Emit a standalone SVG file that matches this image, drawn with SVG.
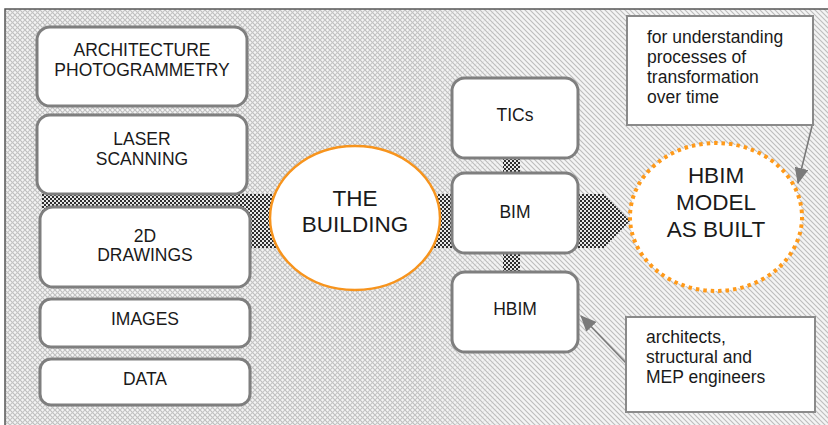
<svg xmlns="http://www.w3.org/2000/svg" width="828" height="425" viewBox="0 0 828 425">
<defs>
<pattern id="diagA" width="5" height="5" patternUnits="userSpaceOnUse">
<rect width="5" height="5" fill="#f4f4f4"/>
<path d="M-1,-1 L6,6 M-1,4 L1,6 M4,-1 L6,1" stroke="#bdbdbd" stroke-width="1.1"/>
</pattern>
<pattern id="diagB" width="5" height="5" patternUnits="userSpaceOnUse">
<path d="M6,-1 L-1,6 M1,-1 L-1,1 M6,4 L4,6" stroke="#c4c4c4" stroke-width="1.1"/>
</pattern>
<linearGradient id="fade" x1="0" y1="0" x2="1" y2="0" gradientUnits="objectBoundingBox">
<stop offset="0" stop-color="#fff"/>
<stop offset="0.5" stop-color="#fff"/>
<stop offset="0.62" stop-color="#000"/>
<stop offset="1" stop-color="#000"/>
</linearGradient>
<mask id="leftMask" maskUnits="userSpaceOnUse" x="0" y="0" width="828" height="425">
<rect x="5" y="9" width="823" height="416" fill="url(#fade)"/>
</mask>
<pattern id="checker" width="4" height="4" patternUnits="userSpaceOnUse">
<rect width="4" height="4" fill="#e8e8e8"/>
<rect width="2" height="2" fill="#2e2e2e"/>
<rect x="2" y="2" width="2" height="2" fill="#2e2e2e"/>
</pattern>
<marker id="arr" markerWidth="16" markerHeight="14" refX="15" refY="7" orient="auto" markerUnits="userSpaceOnUse">
<path d="M0,0 L16,7 L0,14 Z" fill="#7a7a7a"/>
</marker>
<style>
.box{fill:#fff;stroke:#7f7f7f;stroke-width:3}
.call{fill:#fff;stroke:#8a8a8a;stroke-width:2}
.t{font-family:"Liberation Sans",Arial,sans-serif;fill:#1a1a1a;text-anchor:middle}
.s{font-size:17.5px}
.b{font-size:22.5px}
.l{font-family:"Liberation Sans",Arial,sans-serif;fill:#1a1a1a;font-size:17.5px}
.cn{stroke:#7a7a7a;stroke-width:1.6;fill:none}
</style>
</defs>
<rect width="828" height="425" fill="#fff"/>
<g id="background">
<rect x="5" y="9" width="823" height="416" fill="url(#diagA)"/>
<rect x="5" y="9" width="823" height="416" fill="url(#diagB)" mask="url(#leftMask)"/>
<path d="M5,425 L5,9 L828,9" fill="none" stroke="#555" stroke-width="1.5"/>
</g>
<g id="connectors">
<path d="M42,194 L604,194 L630,221 L604,248 L42,248 Z" fill="url(#checker)"/>
<rect x="503" y="157" width="17" height="17" fill="url(#checker)"/>
<rect x="503" y="252" width="17" height="21" fill="url(#checker)"/>
<line class="cn" x1="812" y1="126" x2="798" y2="183" marker-end="url(#arr)"/>
<line class="cn" x1="626" y1="363" x2="581" y2="316" marker-end="url(#arr)"/>
</g>
<g id="node-photogrammetry">
<rect class="box" x="37" y="27" width="210" height="79" rx="13"/>
<text class="t s" x="142" y="56">ARCHITECTURE</text>
<text class="t s" x="142" y="76">PHOTOGRAMMETRY</text>
</g>
<g id="node-laser">
<rect class="box" x="37" y="115" width="210" height="79" rx="13"/>
<text class="t s" x="142" y="145">LASER</text>
<text class="t s" x="142" y="165">SCANNING</text>
</g>
<g id="node-drawings">
<rect class="box" x="40" y="207" width="210" height="80" rx="13"/>
<text class="t s" x="145" y="242">2D</text>
<text class="t s" x="145" y="261">DRAWINGS</text>
</g>
<g id="node-images">
<rect class="box" x="40" y="299" width="210" height="48" rx="11"/>
<text class="t s" x="145" y="325">IMAGES</text>
</g>
<g id="node-data">
<rect class="box" x="40" y="359" width="210" height="46" rx="11"/>
<text class="t s" x="145" y="385">DATA</text>
</g>
<g id="node-building">
<ellipse cx="355" cy="218" rx="85" ry="72" fill="#fff" stroke="#f7941d" stroke-width="2.5"/>
<text class="t b" x="355" y="206">THE</text>
<text class="t b" x="355" y="232">BUILDING</text>
</g>
<g id="node-tics">
<rect class="box" x="452" y="78" width="126" height="80" rx="13"/>
<text class="t s" x="515" y="121">TICs</text>
</g>
<g id="node-bim">
<rect class="box" x="452" y="173" width="126" height="80" rx="13"/>
<text class="t s" x="515" y="218">BIM</text>
</g>
<g id="node-hbim">
<rect class="box" x="452" y="272" width="126" height="80" rx="13"/>
<text class="t s" x="515" y="315">HBIM</text>
</g>
<g id="node-model">
<ellipse cx="716" cy="217" rx="86" ry="74" fill="#fff" stroke="#ff9a1a" stroke-width="4" stroke-dasharray="3.5 4"/>
<text class="t b" x="716" y="183">HBIM</text>
<text class="t b" x="716" y="210">MODEL</text>
<text class="t b" x="716" y="237">AS BUILT</text>
</g>
<g id="note-time">
<rect class="call" x="627" y="16" width="186" height="109"/>
<text class="l" x="647" y="43">for understanding</text>
<text class="l" x="647" y="63">processes of</text>
<text class="l" x="647" y="83">transformation</text>
<text class="l" x="647" y="103">over time</text>
</g>
<g id="note-engineers">
<rect class="call" x="626" y="317" width="189" height="95"/>
<text class="l" x="646" y="343">architects,</text>
<text class="l" x="646" y="363">structural and</text>
<text class="l" x="646" y="383">MEP engineers</text>
</g>
</svg>
